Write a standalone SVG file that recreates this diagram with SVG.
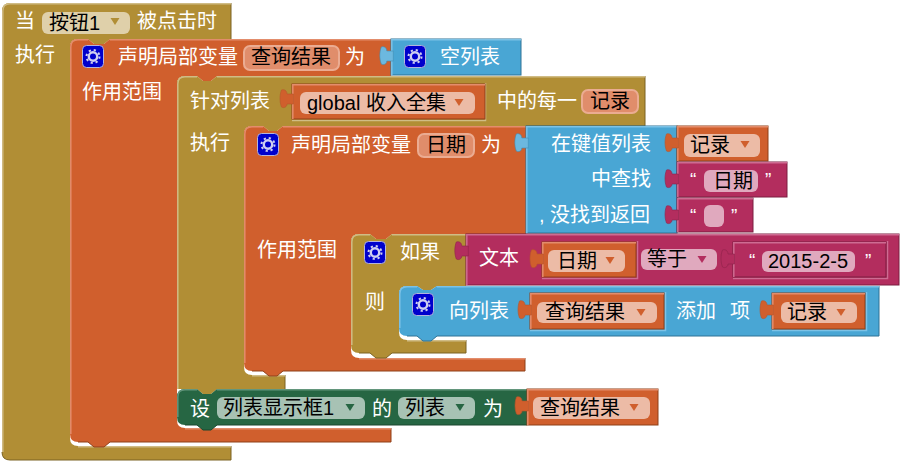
<svg xmlns="http://www.w3.org/2000/svg" width="903" height="463" viewBox="0 0 903 463">
<style>
text{font-family:"Liberation Sans","Noto Sans CJK SC",sans-serif;font-size:20px}
.w{fill:#fff}.k{fill:#000}.q{fill:#fff;font-size:19px}
.br{fill:#B18E35;stroke:#7A6222}.or{fill:#D05F2D;stroke:#8F4119}.bl{fill:#49A6D4;stroke:#2F7396}.mg{fill:#B32D5E;stroke:#7B1E40}.gr{fill:#266643;stroke:#1A472E}
.n{stroke:none}
.hl{fill:none;stroke-width:1.5}
.d{fill:none;stroke-width:1}
.hbr{stroke:#D0BC85}.hor{stroke:#E38D6C}.hbl{stroke:#7CC2E6}.hmg{stroke:#CE6C92}.hgr{stroke:#63967C}
.dbr{stroke:#7A6222}.dor{stroke:#8F4119}.dbl{stroke:#2F7396}.dgr{stroke:#1A472E}
.fbr{fill:#DFD0AA}.for{fill:#ECBBA6}.fv{fill:#E08D6B;stroke:#EBAC92;stroke-width:2}.fmg{fill:#E0A9BE}.fgr{fill:#A7C2B4}
.ab{fill:#B18E35}.ao{fill:#D05F2D}.am{fill:#B32D5E}.ag{fill:#266643}
.to{fill:#D05F2D;stroke:#B8552A;stroke-width:.6}.tb{fill:#6CB8DF;stroke:#3F8DB5;stroke-width:.6}.tm{fill:#B32D5E;stroke:#8E2349;stroke-width:.6}
.ins{fill:none;stroke-width:1.5}
</style>
<defs>
<path id="tab" d="M1.5,5 L-5,5 C-5,1.5 -8,0 -10.5,1 C-12.5,6 -12.5,13 -10.5,18 C-8,19.5 -5,18 -5,15 L1.5,15 Z"/>
<path id="arr" d="M-4.5,-3 H4.5 L0,4 Z"/>
<g id="gear">
<rect x="0.5" y="0.5" width="21" height="22" rx="4" fill="#0000CC" stroke="#B4B4DC"/>
<circle cx="11" cy="11.5" r="6.5" fill="none" stroke="#CFCFF0" stroke-width="2" stroke-dasharray="2.2 2.9"/>
<circle cx="11" cy="11.5" r="4.2" fill="none" stroke="#CFCFF0" stroke-width="2.4"/>
</g>
</defs>

<g id="event-button-click">
<path class="br n" d="M2,11 Q2,3 10,3 H231 V39 H110 L104,44 H94 L88,39 H78 Q70,39 70,47 V438 Q70,446 78,446 H231 V460 H10 Q2,460 2,452 Z"/>
<path class="d dbr" d="M231,3 V39 M231,446 V460 H10 Q2,460 2,452"/>
<path class="hl hbr" d="M2.8,452 V11 Q2.8,3.8 10,3.8 H231"/>
<path class="hl hbr" d="M78,446.8 H231"/>
<text class="w" x="15" y="28">当</text>
<rect class="fbr" x="42" y="12" width="88" height="22" rx="6"/>
<text class="k" x="49" y="30">按钮1</text>
<use href="#arr" class="ab" x="115" y="21"/>
<text class="w" x="137" y="28">被点击时</text>
<text class="w" x="15" y="62">执行</text>
</g>

<g id="local-results">
<path class="or n" d="M70,47 Q70,39 78,39 H88 L94,44 H104 L110,39 H391 V76 H217 L211,81 H203 L197,76 H185 Q177,76 177,84 V420 Q177,428 185,428 H391 V442 H110 L104,447 H94 L88,442 H78 Q70,442 70,434 Z"/>
<path class="d dor" d="M391,428 V442 H110 L104,447 H94 L88,442 H78"/>
<path class="hl hor" d="M70.8,434 V47 Q70.8,39.8 78,39.8 H88 M110,39.8 H391"/>
<path class="hl hor" d="M185,428.8 H391"/>
<use href="#gear" x="82" y="45"/>
<text class="w" x="118" y="64">声明局部变量</text>
<rect class="fv" x="244" y="46" width="95" height="24" rx="6"/>
<text class="k" x="251" y="64">查询结果</text>
<text class="w" x="345" y="64">为</text>
<text class="w" x="82" y="99">作用范围</text>
</g>

<g id="empty-list">
<rect class="bl" x="391" y="39" width="130" height="36"/>
<path class="hl hbl" d="M391.8,75 V39.8 H521"/>
<use href="#tab" class="tb" x="391.8" y="46"/>
<use href="#gear" x="404" y="45"/>
<text class="w" x="440" y="64">空列表</text>
</g>

<g id="for-each">
<path class="br n" d="M177,84 Q177,76 185,76 H197 L203,81 H211 L217,76 H645 V126 H283 L277,131 H269 L263,126 H252 Q244,126 244,134 V367 Q244,375 252,375 H285 V389 H217 L211,394 H203 L197,389 H177 Z"/>
<path class="d dbr" d="M645,76 V126 H526 M285,375 V389"/>
<path class="hl hbr" d="M177.8,389 V84 Q177.8,76.8 185,76.8 H197 M217,76.8 H645"/>
<path class="hl hbr" d="M252,375.8 H285"/>
<text class="w" x="190" y="108">针对列表</text>
<text class="w" x="190" y="150">执行</text>
<text class="w" x="497" y="108">中的每一</text>
<rect class="fv" x="582" y="90" width="56" height="23" rx="6"/>
<text class="k" x="590" y="108">记录</text>
</g>

<g id="global-income">
<path class="ins hbr" d="M292,120.5 H485.5 V83"/>
<rect class="or" x="292" y="84" width="193" height="35"/>
<path class="hl hor" d="M292.8,119 V84.8 H485"/>
<use href="#tab" class="to" x="292" y="89"/>
<rect class="for" x="300" y="92" width="175" height="22" rx="6"/>
<text class="k" x="307" y="110">global 收入全集</text>
<use href="#arr" class="ao" x="459" y="102"/>
</g>

<g id="local-date">
<path class="or n" d="M244,134 Q244,126 252,126 H263 L269,131 H277 L283,126 H526 V234 H392 L386,239 H376 L370,234 H359 Q351,234 351,242 V350 Q351,358 359,358 H525 V371 H283 L277,376 H269 L263,371 H252 Q244,371 244,363 Z"/>
<path class="d dor" d="M525,358 V371 H283 L277,376 H269 L263,371 H252"/>
<path class="hl hor" d="M244.8,363 V134 Q244.8,126.8 252,126.8 H263 M283,126.8 H526"/>
<path class="hl hor" d="M359,358.8 H525"/>
<use href="#gear" x="257" y="133"/>
<text class="w" x="291" y="152">声明局部变量</text>
<rect class="fv" x="418" y="134" width="56" height="23" rx="6"/>
<text class="k" x="426" y="152">日期</text>
<text class="w" x="481" y="152">为</text>
<text class="w" x="257" y="257">作用范围</text>
</g>

<g id="lookup">
<rect class="bl" x="526" y="126" width="151" height="107"/>
<path class="hl hbl" d="M526.8,233 V126.8 H677"/>
<use href="#tab" class="tb" x="526.8" y="133"/>
<text class="w" x="551" y="151">在键值列表</text>
<text class="w" x="591" y="186">中查找</text>
<text class="w" x="539" y="222">, 没找到返回</text>
</g>

<g id="record-var">
<rect class="or" x="677" y="126" width="91" height="35"/>
<path class="hl hor" d="M677.8,161 V126.8 H768"/>
<use href="#tab" class="to" x="677" y="133"/>
<rect class="for" x="684" y="134" width="76" height="23" rx="6"/>
<text class="k" x="690" y="152">记录</text>
<use href="#arr" class="ao" x="745" y="144"/>
</g>

<g id="text-date">
<rect class="mg" x="677" y="162" width="110" height="35"/>
<path class="hl hmg" d="M677.8,197 V162.8 H787"/>
<use href="#tab" class="tm" x="677" y="169"/>
<text class="q" x="690" y="186">“</text>
<rect class="fmg" x="704" y="170" width="54" height="22" rx="6"/>
<text class="k" x="713" y="188">日期</text>
<text class="q" x="765" y="186">”</text>
</g>

<g id="text-empty">
<rect class="mg" x="677" y="198" width="76" height="34"/>
<path class="hl hmg" d="M677.8,232 V198.8 H753"/>
<use href="#tab" class="tm" x="677" y="205"/>
<text class="q" x="690" y="222">“</text>
<rect class="fmg" x="704" y="205" width="20" height="22" rx="6"/>
<text class="q" x="731" y="222">”</text>
</g>

<g id="if-block">
<path class="br n" d="M351,242 Q351,234 359,234 H370 L376,239 H386 L392,234 H466 V286 H437 L431,290 H423 L417,286 H407 Q399,286 399,294 V332 Q399,340 407,340 H466 V353 H392 L386,358 H376 L370,353 H359 Q351,353 351,345 Z"/>
<path class="d dbr" d="M466,340 V353 H392 L386,358 H376 L370,353 H359"/>
<path class="hl hbr" d="M351.8,345 V242 Q351.8,234.8 359,234.8 H370 M392,234.8 H466"/>
<path class="hl hbr" d="M407,340.8 H466"/>
<use href="#gear" x="364" y="241"/>
<text class="w" x="400" y="259">如果</text>
<text class="w" x="365" y="309">则</text>
</g>

<g id="text-compare">
<rect class="mg" x="466" y="234" width="433" height="51"/>
<path class="hl hmg" d="M466.8,285 V234.8 H899"/>
<use href="#tab" class="tm" x="466.8" y="241"/>
<text class="w" x="479" y="265">文本</text>
<rect class="fmg" x="641" y="249" width="76" height="21" rx="6"/>
<text class="k" x="647" y="266">等于</text>
<use href="#arr" class="am" x="702" y="259"/>
</g>

<g id="compare-date-var">
<path class="ins hmg" d="M542,278.5 H637.5 V241"/>
<rect class="or" x="542" y="242" width="94" height="35"/>
<path class="hl hor" d="M542.8,277 V242.8 H636"/>
<use href="#tab" class="to" x="542" y="249"/>
<rect class="for" x="548" y="250" width="77" height="22" rx="6"/>
<text class="k" x="557" y="268">日期</text>
<use href="#arr" class="ao" x="610" y="260"/>
</g>

<g id="text-date-value">
<path class="ins hmg" d="M733,278.5 H887.5 V241"/>
<rect class="mg" x="733" y="242" width="153" height="35"/>
<path class="hl hmg" d="M733.8,277 V242.8 H886"/>
<use href="#tab" class="tm" x="733" y="249"/>
<text class="q" x="749" y="267">“</text>
<rect class="fmg" x="762" y="251" width="93" height="21" rx="6"/>
<text class="k" x="768" y="268">2015-2-5</text>
<text class="q" x="865" y="267">”</text>
</g>

<g id="add-to-list">
<path class="bl n" d="M399,294 Q399,286 407,286 H417 L423,290 H431 L437,286 H879 V336 H437 L431,341 H423 L417,336 H407 Q399,336 399,328 Z"/>
<path class="d dbl" d="M879,286 V336 H437 L431,341 H423 L417,336 H407"/>
<path class="hl hbl" d="M399.8,328 V294 Q399.8,286.8 407,286.8 H417 M437,286.8 H879"/>
<use href="#gear" x="412" y="293"/>
<text class="w" x="449" y="318">向列表</text>
<text class="w" x="676" y="318">添加</text>
<text class="w" x="730" y="318">项</text>
</g>

<g id="add-list-var">
<path class="ins hbl" d="M530,330.5 H665.5 V292"/>
<rect class="or" x="530" y="293" width="134" height="36"/>
<path class="hl hor" d="M530.8,329 V293.8 H664"/>
<use href="#tab" class="to" x="530" y="300"/>
<rect class="for" x="537" y="302" width="120" height="21" rx="6"/>
<text class="k" x="545" y="319">查询结果</text>
<use href="#arr" class="ao" x="641" y="312"/>
</g>

<g id="add-item-var">
<path class="ins hbl" d="M772,330.5 H866.5 V292"/>
<rect class="or" x="772" y="293" width="93" height="36"/>
<path class="hl hor" d="M772.8,329 V293.8 H865"/>
<use href="#tab" class="to" x="772" y="300"/>
<rect class="for" x="781" y="302" width="76" height="21" rx="6"/>
<text class="k" x="787" y="319">记录</text>
<use href="#arr" class="ao" x="841" y="312"/>
</g>

<g id="set-property">
<path class="gr n" d="M177,397 Q177,389 185,389 H197 L203,394 H211 L217,389 H527 V425 H217 L211,430 H203 L197,425 H185 Q177,425 177,417 Z"/>
<path class="d dgr" d="M527,425 H217 L211,430 H203 L197,425 H185"/>
<path class="hl hgr" d="M177.8,417 V397 Q177.8,389.8 185,389.8 H197 M217,389.8 H527"/>
<text class="w" x="190" y="416">设</text>
<rect class="fgr" x="217" y="397" width="148" height="22" rx="6"/>
<text class="k" x="223" y="415">列表显示框1</text>
<use href="#arr" class="ag" x="350" y="407"/>
<text class="w" x="372" y="416">的</text>
<rect class="fgr" x="398" y="397" width="77" height="22" rx="6"/>
<text class="k" x="405" y="415">列表</text>
<use href="#arr" class="ag" x="460" y="407"/>
<text class="w" x="483" y="416">为</text>
</g>

<g id="results-var">
<rect class="or" x="527" y="389" width="131" height="36"/>
<path class="hl hor" d="M527.8,425 V389.8 H658"/>
<use href="#tab" class="to" x="527" y="396"/>
<rect class="for" x="533" y="397" width="117" height="22" rx="6"/>
<text class="k" x="540" y="415">查询结果</text>
<use href="#arr" class="ao" x="634" y="407"/>
</g>
</svg>
